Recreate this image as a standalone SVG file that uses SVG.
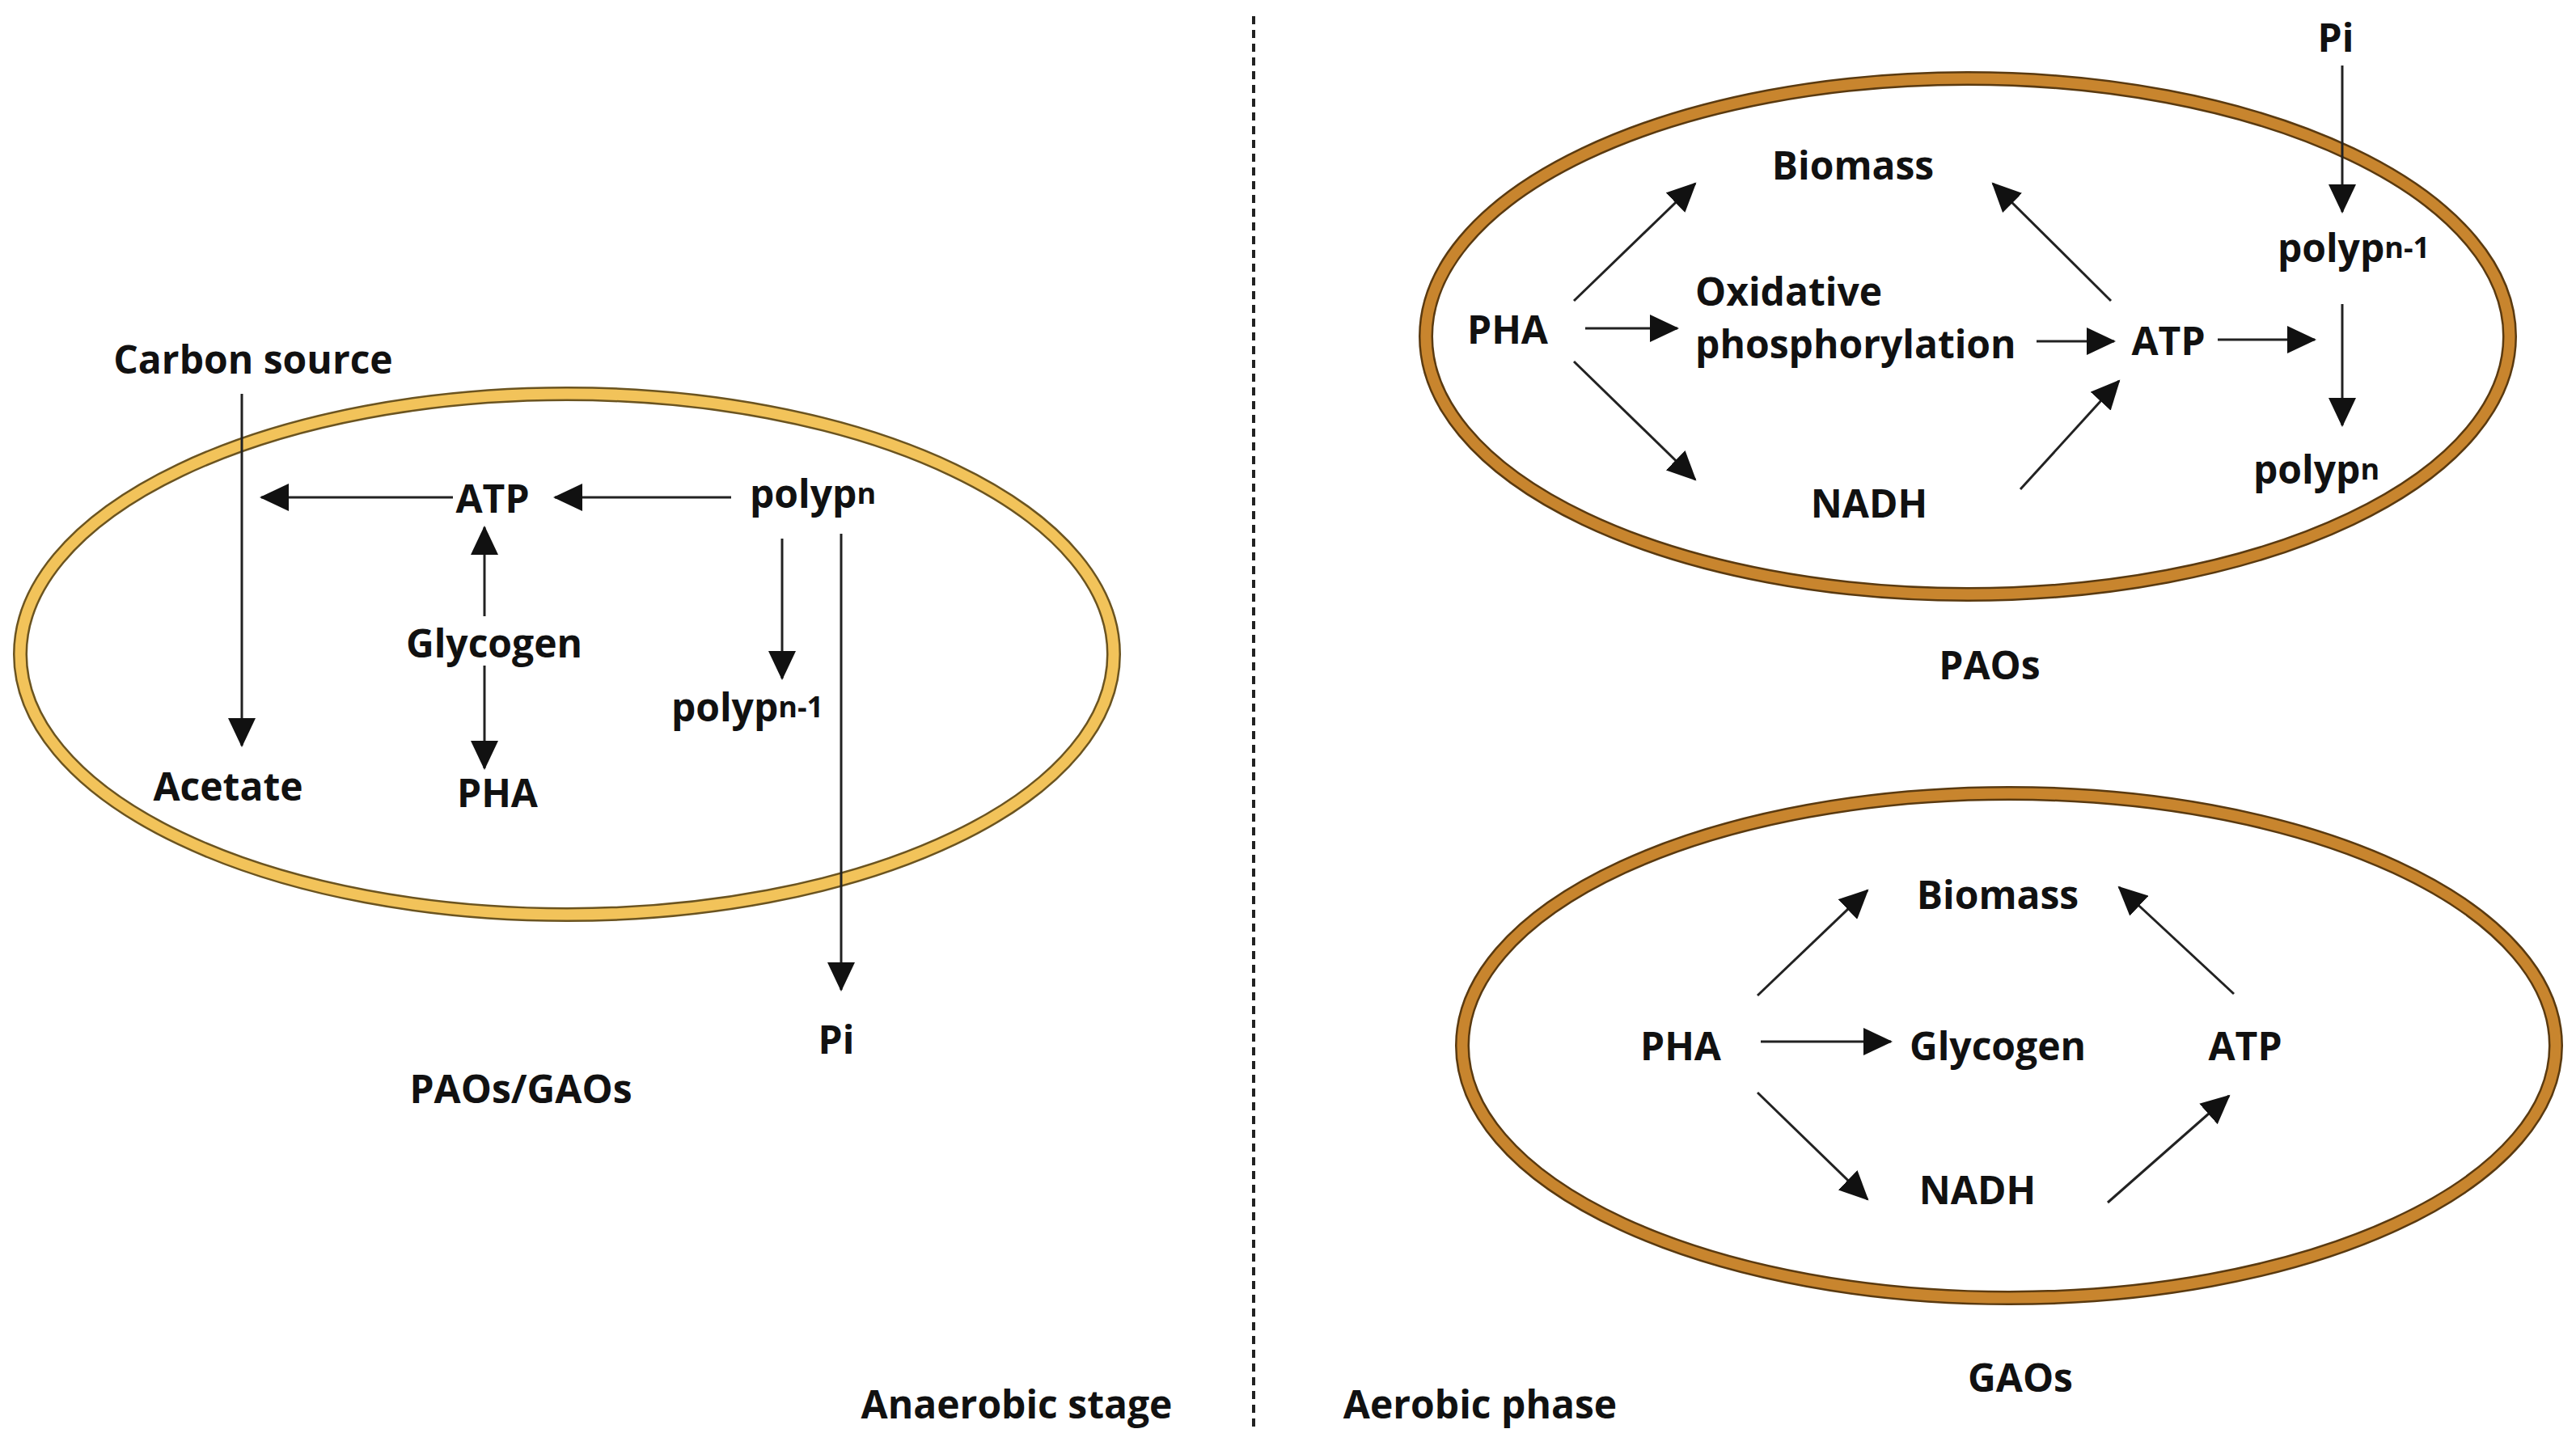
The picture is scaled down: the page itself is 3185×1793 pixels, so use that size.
<svg xmlns="http://www.w3.org/2000/svg" width="3185" height="1793" viewBox="0 0 3185 1793">
<style>
text{font-family:"Open Sans","Liberation Sans",sans-serif;font-weight:bold;font-size:48px;fill:#111;text-anchor:middle;dominant-baseline:central}
.s{font-size:36px}
.l{text-anchor:start}
.c{stroke:#222;stroke-width:3;fill:none;marker-end:url(#a)}
</style>
<defs>
<marker id="a" markerUnits="userSpaceOnUse" markerWidth="38" markerHeight="34" refX="34" refY="17" orient="auto"><path d="M0,0 L36,17 L0,34 Z" fill="#111"/></marker>
</defs>
<rect width="3185" height="1793" fill="#fff"/>
<line x1="1550" y1="20" x2="1550" y2="1767" stroke="#222" stroke-width="4" stroke-dasharray="10,7"/>
<g id="cellLeft">
<ellipse cx="701" cy="809" rx="676" ry="322" fill="none" stroke="#6b5420" stroke-width="18"/>
<ellipse cx="701" cy="809" rx="676" ry="322" fill="none" stroke="#F2C35A" stroke-width="13"/>
</g>
<g id="cellPAO">
<ellipse cx="2433" cy="416" rx="670" ry="319" fill="none" stroke="#5a3a10" stroke-width="18"/>
<ellipse cx="2433" cy="416" rx="670" ry="319" fill="none" stroke="#C8852E" stroke-width="13"/>
</g>
<g id="cellGAO">
<ellipse cx="2484" cy="1293" rx="676" ry="312" fill="none" stroke="#5a3a10" stroke-width="18"/>
<ellipse cx="2484" cy="1293" rx="676" ry="312" fill="none" stroke="#C8852E" stroke-width="13"/>
</g>
<g id="connectors">
<line class="c" x1="299" y1="487" x2="299" y2="922"/>
<line class="c" x1="560" y1="615" x2="323" y2="615"/>
<line class="c" x1="904" y1="615" x2="686" y2="615"/>
<line class="c" x1="599" y1="762" x2="599" y2="652"/>
<line class="c" x1="599" y1="823" x2="599" y2="950"/>
<line class="c" x1="967" y1="666" x2="967" y2="839"/>
<line class="c" x1="1040" y1="660" x2="1040" y2="1224"/>
<line class="c" x1="2896" y1="81" x2="2896" y2="262"/>
<line class="c" x1="2896" y1="376" x2="2896" y2="526"/>
<line class="c" x1="1946" y1="372" x2="2096" y2="227"/>
<line class="c" x1="1960" y1="406" x2="2074" y2="406"/>
<line class="c" x1="1946" y1="447" x2="2096" y2="593"/>
<line class="c" x1="2518" y1="422" x2="2614" y2="422"/>
<line class="c" x1="2610" y1="372" x2="2464" y2="227"/>
<line class="c" x1="2498" y1="605" x2="2620" y2="471"/>
<line class="c" x1="2742" y1="420" x2="2862" y2="420"/>
<line class="c" x1="2173" y1="1231" x2="2309" y2="1101"/>
<line class="c" x1="2177" y1="1288" x2="2338" y2="1288"/>
<line class="c" x1="2173" y1="1351" x2="2309" y2="1483"/>
<line class="c" x1="2762" y1="1229" x2="2620" y2="1097"/>
<line class="c" x1="2606" y1="1487" x2="2756" y2="1355"/>
</g>
<g id="carbon"><text x="313" y="443">Carbon source</text></g>
<g id="atpL"><text x="609" y="615">ATP</text></g>
<g id="polypnL"><text x="1005" y="609">polyp<tspan class="s">n</tspan></text></g>
<g id="glycogenL"><text x="611" y="794">Glycogen</text></g>
<g id="phaL"><text x="615" y="979">PHA</text></g>
<g id="acetate"><text x="282" y="971">Acetate</text></g>
<g id="polypn1L"><text x="924" y="873">polyp<tspan class="s">n-1</tspan></text></g>
<g id="piL"><text x="1034" y="1284">Pi</text></g>
<g id="labelL"><text x="644" y="1345">PAOs/GAOs</text></g>
<g id="anaerobic"><text x="1257" y="1735">Anaerobic stage</text></g>
<g id="aerobic"><text x="1830" y="1735">Aerobic phase</text></g>
<g id="piR"><text x="2888" y="45">Pi</text></g>
<g id="polypn1R"><text x="2910" y="305">polyp<tspan class="s">n-1</tspan></text></g>
<g id="polypnR"><text x="2864" y="579">polyp<tspan class="s">n</tspan></text></g>
<g id="biomassP"><text x="2291" y="203">Biomass</text></g>
<g id="phaP"><text x="1864" y="406">PHA</text></g>
<g id="oxphos"><text class="l" x="2096" y="359">Oxidative</text><text class="l" x="2096" y="424">phosphorylation</text></g>
<g id="atpP"><text x="2681" y="420">ATP</text></g>
<g id="nadhP"><text x="2311" y="621">NADH</text></g>
<g id="paos"><text x="2460" y="821">PAOs</text></g>
<g id="biomassG"><text x="2470" y="1105">Biomass</text></g>
<g id="phaG"><text x="2078" y="1292">PHA</text></g>
<g id="glycogenG"><text x="2470" y="1292">Glycogen</text></g>
<g id="atpG"><text x="2776" y="1292">ATP</text></g>
<g id="nadhG"><text x="2445" y="1470">NADH</text></g>
<g id="gaos"><text x="2498" y="1702">GAOs</text></g>
</svg>
